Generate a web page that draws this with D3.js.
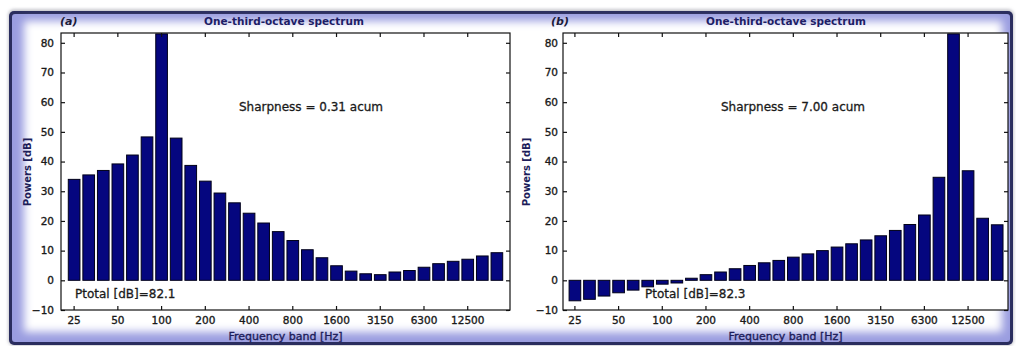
<!DOCTYPE html>
<html><head><meta charset="utf-8">
<script src="https://cdn.jsdelivr.net/npm/d3@7"></script>
<style>html,body{margin:0;padding:0;background:#fff;}svg{display:block;}</style>
</head><body>
<script>
// ---- data ----
const bands = ["25","31.5","40","50","63","80","100","125","160","200","250","315","400","500","630","800","1000","1250","1600","2000","2500","3150","4000","5000","6300","8000","10000","12500","16000","20000"];
const tickBands = ["25","50","100","200","400","800","1600","3150","6300","12500"];
const yTicks = [-10,0,10,20,30,40,50,60,70,80];
const powersA = [34.0,35.5,37.0,39.2,42.2,48.3,83.0,47.9,38.7,33.4,29.4,26.1,22.6,19.3,16.4,13.4,10.3,7.6,4.9,3.1,2.2,1.9,2.8,3.3,4.4,5.6,6.4,7.1,8.2,9.3];
const powersB = [-6.9,-6.4,-5.3,-4.2,-3.3,-2.2,-1.3,-0.9,0.7,1.9,2.8,3.9,5.0,5.9,6.7,7.8,8.9,10.0,11.2,12.3,13.6,15.0,16.8,18.8,22.0,34.7,83.0,36.9,20.9,18.7];
const panelLetters = ["(a)","(b)"];
const titleText = "One-third-octave spectrum";
const sharpnessTexts = ["Sharpness = 0.31 acum","Sharpness = 7.00 acum"];
const ptotalTexts = ["Ptotal [dB]=82.1","Ptotal [dB]=82.3"];
const xLabel = "Frequency band [Hz]";
const yLabel = "Powers [dB]";

const W = 1016, H = 346;
const svg = d3.select("body").append("svg").attr("width", W).attr("height", H);
const defs = svg.append("defs");
defs.append("filter").attr("id","blur").attr("x","-10%").attr("y","-10%").attr("width","120%").attr("height","120%")
  .append("feGaussianBlur").attr("stdDeviation", 4);
defs.append("filter").attr("id","shadow").attr("x","-5%").attr("y","-5%").attr("width","110%").attr("height","110%")
  .append("feGaussianBlur").attr("stdDeviation", 1.5);

// frame
svg.append("rect").attr("x",8).attr("y",9).attr("width",1006).attr("height",337).attr("rx",6).attr("fill","#c9c9cf").attr("filter","url(#shadow)");
svg.append("rect").attr("x",9).attr("y",11).attr("width",1004).attr("height",334).attr("rx",5).attr("fill","#2a2d5e");
svg.append("rect").attr("x",12).attr("y",14).attr("width",998).attr("height",328).attr("rx",3).attr("fill","#9a9de0");
svg.append("rect").attr("x",24).attr("y",21).attr("width",978).attr("height",311).attr("fill","#fff").attr("filter","url(#blur)");

const panels = [
  {data: powersA, left: 61, right: 510, po: 0.5, align: 0.5, letterX: 60, titleX: 284, sharpX: 311, ptX: 75, ylabX: 31, tp: 7},
  {data: powersB, left: 563, right: 1008, po: 0.38, align: 0.55, letterX: 551, titleX: 786, sharpX: 793, ptX: 645, ylabX: 530, tp: 5}
];
const plotTop = 33, plotBottom = 310;
const y = d3.scaleLinear().domain([-10, 83.3]).range([plotBottom, plotTop]);
const font = "DejaVu Sans, Verdana, sans-serif";
const thicken = (sel, c, w) => sel.attr("fill", c).attr("stroke", c).attr("stroke-width", w);

panels.forEach((p, k) => {
  const g = svg.append("g");
  const x = d3.scaleBand().domain(bands).range([p.left, p.right]).paddingInner(0.2).paddingOuter(p.po).align(p.align);
  g.append("rect").attr("x",p.left).attr("y",plotTop).attr("width",p.right-p.left).attr("height",plotBottom-plotTop).attr("fill","#fff");
  // bars
  g.append("g").selectAll("rect").data(p.data).join("rect")
    .attr("x",(d,i)=>x(bands[i]))
    .attr("width",x.bandwidth())
    .attr("y",d=>y(Math.max(0,d)))
    .attr("height",d=>Math.abs(y(d)-y(0)))
    .attr("fill","#05067f").attr("stroke","#000018").attr("stroke-width",1);
  // axes (ticks inward)
  const gx = g.append("g").attr("transform",`translate(0,${plotBottom})`)
    .call(d3.axisBottom(x).tickValues(tickBands).tickSize(-4).tickPadding(7));
  const gxt = g.append("g").attr("transform",`translate(0,${plotTop})`)
    .call(d3.axisTop(x).tickValues(tickBands).tickSize(-4).tickFormat(""));
  const gy = g.append("g").attr("transform",`translate(${p.left},0)`)
    .call(d3.axisLeft(y).tickValues(yTicks).tickSize(-4).tickPadding(p.tp).tickFormat(d3.format("d")));
  const gyr = g.append("g").attr("transform",`translate(${p.right},0)`)
    .call(d3.axisRight(y).tickValues(yTicks).tickSize(-4).tickFormat(""));
  [gx,gxt,gy,gyr].forEach(a=>{
    a.select(".domain").remove();
    a.selectAll(".tick line").attr("stroke","#111").attr("stroke-width",1.2);
    thicken(a.selectAll("text").attr("font-family",font).attr("font-size",10.5), "#1a1a1a", 0.35);
  });
  g.append("rect").attr("x",p.left).attr("y",plotTop).attr("width",p.right-p.left).attr("height",plotBottom-plotTop)
    .attr("fill","none").attr("stroke","#111").attr("stroke-width",1.2);
  // texts
  g.append("text").attr("x",p.letterX).attr("y",25).text(panelLetters[k])
    .attr("font-family",font).attr("font-size",11).attr("font-style","italic").attr("font-weight","bold").attr("fill","#1a1a3a");
  g.append("text").attr("x",p.titleX).attr("y",25).attr("text-anchor","middle").text(titleText)
    .attr("font-family",font).attr("font-size",10.5).attr("font-weight","bold").attr("fill","#1d1d66");
  thicken(g.append("text").attr("x",p.sharpX).attr("y",111).attr("text-anchor","middle").text(sharpnessTexts[k])
    .attr("font-family",font).attr("font-size",12), "#1a1a1a", 0.3);
  thicken(g.append("text").attr("x",p.ptX).attr("y",298).text(ptotalTexts[k])
    .attr("font-family",font).attr("font-size",12), "#1a1a1a", 0.3);
  thicken(g.append("text").attr("x",(p.left+p.right)/2).attr("y",340).attr("text-anchor","middle").text(xLabel)
    .attr("font-family",font).attr("font-size",11), "#1d1d5a", 0.35);
  g.append("text").attr("transform",`translate(${p.ylabX},172) rotate(-90)`).attr("text-anchor","middle").text(yLabel)
    .attr("font-family",font).attr("font-size",10).attr("font-weight","bold").attr("fill","#1d1d5a");
});
</script>
</body></html>
